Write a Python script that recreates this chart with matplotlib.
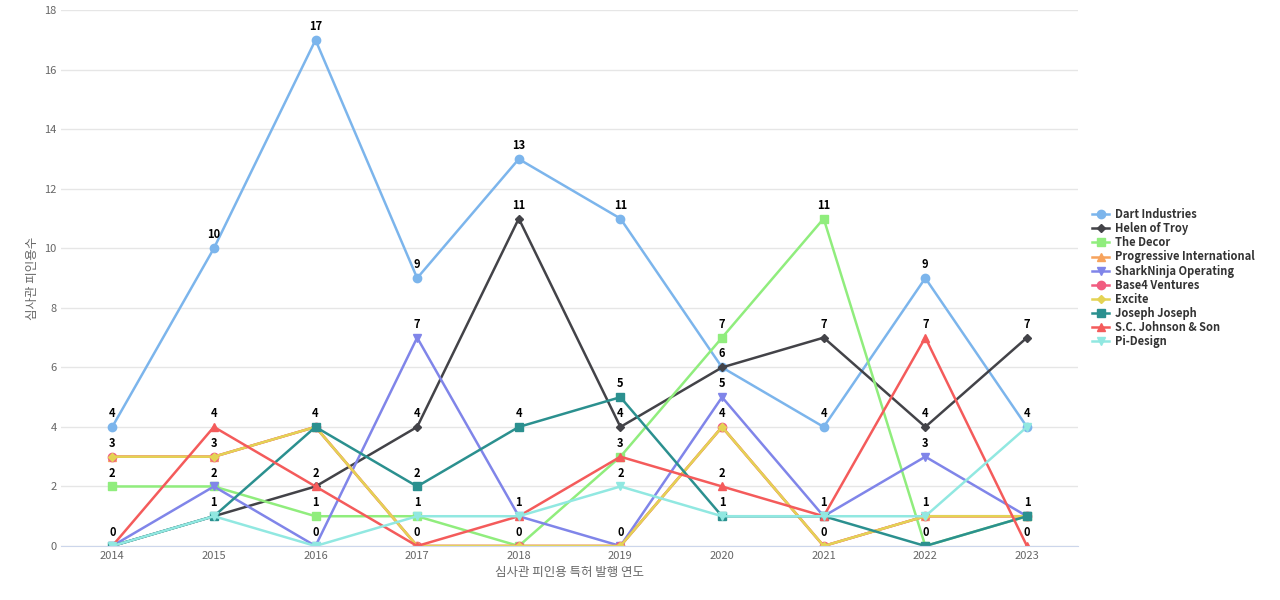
import matplotlib.pyplot as plt

plt.rcParams["font.family"] = ["Noto Sans CJK KR", "Noto Sans CJK JP", "Noto Sans CJK SC", "DejaVu Sans"]

years = [2014, 2015, 2016, 2017, 2018, 2019, 2020, 2021, 2022, 2023]
names = ["Dart Industries", "Helen of Troy", "The Decor", "Progressive International",
         "SharkNinja Operating", "Base4 Ventures", "Excite", "Joseph Joseph",
         "S.C. Johnson & Son", "Pi-Design"]
dart = [4, 10, 17, 9, 13, 11, 6, 4, 9, 4]
helen = [0, 1, 2, 4, 11, 4, 6, 7, 4, 7]
decor = [2, 2, 1, 1, 0, 3, 7, 11, 0, 1]
progressive = [3, 3, 4, 0, 0, 0, 4, 0, 1, 1]
shark = [0, 2, 0, 7, 1, 0, 5, 1, 3, 1]
base4 = [3, 3, 4, 0, 0, 0, 4, 0, 1, 1]
excite = [3, 3, 4, 0, 0, 0, 4, 0, 1, 1]
joseph = [0, 1, 4, 2, 4, 5, 1, 1, 0, 1]
scj = [0, 4, 2, 0, 1, 3, 2, 1, 7, 0]
pidesign = [0, 1, 0, 1, 1, 2, 1, 1, 1, 4]
series = [dart, helen, decor, progressive, shark, base4, excite, joseph, scj, pidesign]

colors = ["#7cb5ec", "#434348", "#90ed7d", "#f7a35c", "#8085e9",
          "#f15c80", "#e4d354", "#2b908f", "#f45b5b", "#91e8e1"]
markers = ["o", "D", "s", "^", "v", "o", "D", "s", "^", "v"]
sizes = [6, 4.5, 6, 6, 6, 6, 4.5, 6, 6, 6]

fig = plt.figure(figsize=(12.8, 6), dpi=100)
ax = fig.add_axes([0.048, 0.09, 0.794, 0.893])

seen = set()
for vals, name, c, m, s in zip(series, names, colors, markers, sizes):
    ax.plot(years, vals, color=c, marker=m, markersize=s, linewidth=1.8, label=name)
    for x, y in zip(years, vals):
        if (x, y) in seen:
            continue
        seen.add((x, y))
        ax.annotate(str(y), (x, y), xytext=(0, 5), textcoords="offset points",
                    ha="center", va="bottom", fontsize=8, fontweight="bold", color="black")

ax.set_xlim(2013.5, 2023.5)
ax.set_ylim(0, 18)
ax.set_xticks(years)
ax.set_yticks(range(0, 19, 2))
ax.grid(axis="y", color="#e6e6e6", linewidth=1)
ax.set_axisbelow(True)
for sp in ["top", "right", "left"]:
    ax.spines[sp].set_visible(False)
ax.spines["bottom"].set_color("#ccd6eb")
ax.tick_params(axis="both", length=0, labelsize=8, colors="#666666")
ax.set_xlabel("심사관 피인용 특허 발행 연도", fontsize=9, color="#666666")
ax.set_ylabel("심사관 피인용수", fontsize=9, color="#666666")

leg = ax.legend(loc="center left", bbox_to_anchor=(1.01, 0.5), frameon=False,
                fontsize=8, handlelength=1.5, handletextpad=0.5, labelspacing=0.1,
                borderaxespad=0)
for t in leg.get_texts():
    t.set_fontweight("bold")
    t.set_color("#333333")

fig.savefig("out.png")
